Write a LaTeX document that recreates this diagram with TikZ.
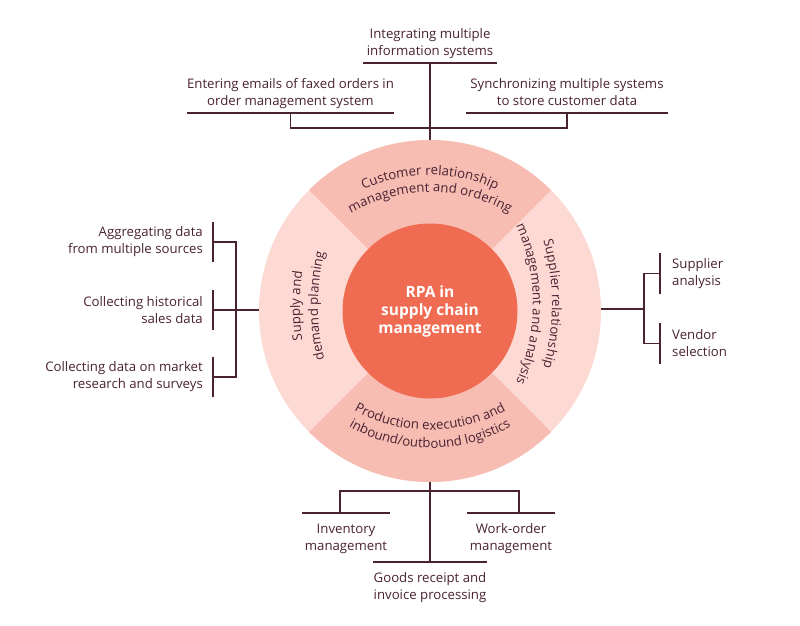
\documentclass[tikz,border=0pt]{standalone}
\usepackage{fontspec}
\setmainfont{Open Sans}
\usetikzlibrary{decorations.text}
\definecolor{txt}{HTML}{4A2232}
\definecolor{corefill}{HTML}{EF6B52}
\definecolor{segA}{HTML}{F7BDB3}
\definecolor{segB}{HTML}{FCDAD3}
\newcommand{\lblfont}{\fontsize{13.2}{17}\selectfont}
\begin{document}
\begin{tikzpicture}[x=1pt,y=1pt,
  lbl/.style={font=\lblfont, text=txt, align=center, inner xsep=0pt},
  link/.style={draw=txt, line width=1.3pt},
  arctext/.style={decorate, decoration={text along path, text align=center,
     text color=txt, text format delimiters={|}{|}, text={|\lblfont|#1}}}
]
\useasboundingbox[fill=white] (0,0) rectangle (800,-626);
\coordinate (c) at (430,-311);
% ring
\node[circle, minimum size=342pt, inner sep=0pt, fill=segB] (ring) at (c) {};
\fill[segA] (c) -- ([shift={(45:171)}]c) arc[start angle=45, end angle=135, radius=171] -- cycle;
\fill[segA] (c) -- ([shift={(225:171)}]c) arc[start angle=225, end angle=315, radius=171] -- cycle;
\node[circle, minimum size=175pt, inner sep=0pt, fill=corefill, text=white,
  font=\bfseries\fontsize{15.5}{18}\selectfont, align=center] (core) at (c) {RPA in\\supply chain\\management};
% curved texts (centres of the text arcs)
\coordinate (t1) at (430,-330);
\coordinate (t2) at (430,-350);
\coordinate (b1) at (430,-273);
\coordinate (b2) at (430,-285);
\coordinate (l1) at (550,-306);
\coordinate (l2) at (548,-306);
\coordinate (r1) at (321,-304);
\coordinate (r2) at (344,-304);
\path[arctext={Customer relationship}] ([shift={(150:155)}]t1) arc[start angle=150, end angle=30, radius=155];
\path[arctext={management and ordering}] ([shift={(150:158)}]t2) arc[start angle=150, end angle=30, radius=158];
\path[arctext={Production execution and}] ([shift={(210:157)}]b1) arc[start angle=210, end angle=330, radius=157];
\path[arctext={inbound/outbound logistics}] ([shift={(210:163)}]b2) arc[start angle=210, end angle=330, radius=163];
\path[arctext={Supply and}] ([shift={(205:250)}]l1) arc[start angle=205, end angle=155, radius=250];
\path[arctext={demand planning}] ([shift={(205:230)}]l2) arc[start angle=205, end angle=155, radius=230];
\path[arctext={Supplier relationship}] ([shift={(25:231)}]r1) arc[start angle=25, end angle=-25, radius=231];
\path[arctext={management and analysis}] ([shift={(30:189)}]r2) arc[start angle=30, end angle=-30, radius=189];
% top labels
\node[lbl, anchor=south, minimum width=134pt, inner ysep=2pt] (integ) at (430,-63) {Integrating multiple\\information systems\strut};
\node[lbl, anchor=south, minimum width=203pt, inner ysep=2pt] (ent) at (290.5,-113) {Entering emails of faxed orders in\\order management system\strut};
\node[lbl, anchor=south, minimum width=202pt, inner ysep=2pt] (syn) at (567,-113) {Synchronizing multiple systems\\to store customer data\strut};
\draw[link] (integ.south west) -- (integ.south east);
\draw[link] (ent.south west) -- (ent.south east);
\draw[link] (syn.south west) -- (syn.south east);
\coordinate (tb) at (430,-128);
\draw[link] (integ.south) -- (ring.north);
\draw[link] (ent.south) |- (tb) -| (syn.south);
% left labels
\node[lbl, align=right, anchor=east, minimum height=40pt, inner xsep=10pt] (agg) at (213,-242) {Aggregating data\\from multiple sources};
\node[lbl, align=right, anchor=east, minimum height=40pt, inner xsep=10pt] (hist) at (213,-310) {Collecting historical\\sales data};
\node[lbl, align=right, anchor=east, minimum height=40pt, inner xsep=10pt] (mkt) at (213,-377) {Collecting data on market\\research and surveys};
\foreach \n in {agg,hist,mkt} \draw[link] (\n.north east) -- (\n.south east);
\coordinate (ls) at (236,-310);
\draw[link] (agg.east) -| (ls) |- (mkt.east);
\draw[link] (hist.east) -- (hist.east -| ring.west);
% right labels
\node[lbl, align=left, anchor=west, minimum height=41pt, inner xsep=12pt] (sup) at (660,-273.5) {Supplier\\analysis};
\node[lbl, align=left, anchor=west, minimum height=41pt, inner xsep=12pt] (ven) at (660,-343.5) {Vendor\\selection};
\foreach \n in {sup,ven} \draw[link] (\n.north west) -- (\n.south west);
\coordinate (rs) at (644,-309);
\draw[link] (sup.west) -| (rs) |- (ven.west);
\draw[link] (rs -| ring.east) -- (rs);
% bottom labels
\node[lbl, anchor=north, minimum width=88pt, inner ysep=8pt] (inv) at (346,-513) {\strut Inventory\\management};
\node[lbl, anchor=north, minimum width=88pt, inner ysep=8pt] (wo) at (511,-513) {\strut Work-order\\management};
\node[lbl, anchor=north, minimum width=112pt, inner ysep=8pt] (goods) at (430,-562) {\strut Goods receipt and\\invoice processing};
\foreach \n in {inv,wo,goods} \draw[link] (\n.north west) -- (\n.north east);
\draw[link] (ring.south) -- (goods.north);
\coordinate (bl) at (340,-491);
\coordinate (br) at (519,-491);
\draw[link] (inv.north -| bl) -- (bl) -- (br) -- (wo.north -| br);
\end{tikzpicture}
\end{document}
